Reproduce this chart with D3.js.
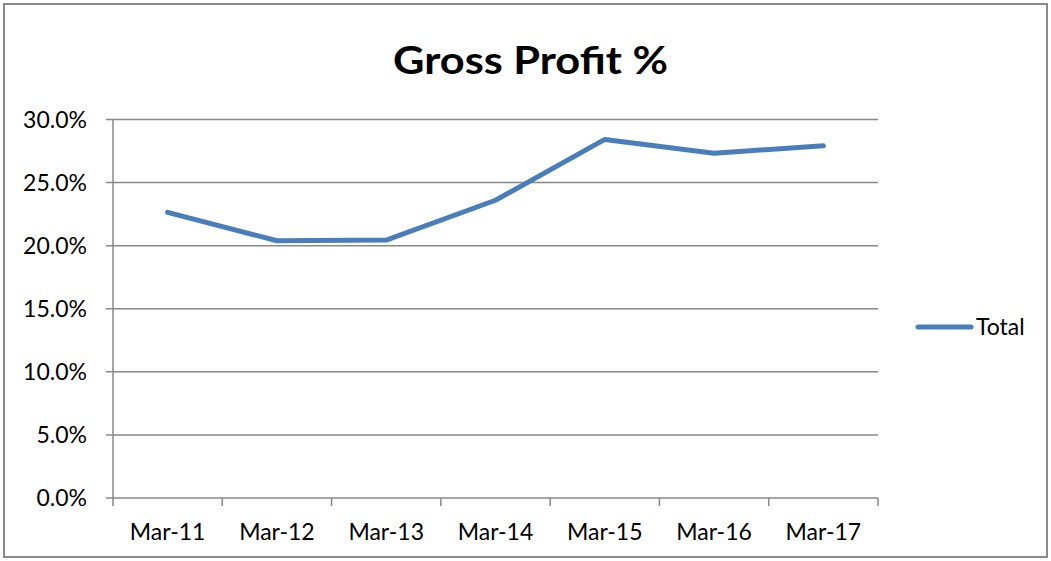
<!DOCTYPE html>
<html>
<head>
<meta charset="utf-8">
<script src="https://cdn.jsdelivr.net/npm/d3@7"></script>
<style>
  body { margin: 0; background: #fff; }
  svg { display: block; font-family: Lato, "Open Sans", sans-serif; }
</style>
</head>
<body>
<svg id="chart"></svg>
<script>
const categories = ["Mar-11", "Mar-12", "Mar-13", "Mar-14", "Mar-15", "Mar-16", "Mar-17"];
const totalValues = [0.2264, 0.2039, 0.2044, 0.2360, 0.2842, 0.2732, 0.2792];
const yTicks = [0, 0.05, 0.10, 0.15, 0.20, 0.25, 0.30];
const seriesName = "Total";
const chartTitle = "Gross Profit %";

const width = 1051;
const height = 561;
const margin = { top: 119.5, right: 173, bottom: 63, left: 113 };
const lineColor = "#4a7ebb";
const gridColor = "#888888";

const svg = d3.select("#chart").attr("width", width).attr("height", height);

// frame
svg.append("rect").attr("x", 4).attr("y", 4).attr("width", width - 8).attr("height", height - 8)
    .attr("fill", "#fff").attr("stroke", "#8a8a8a").attr("stroke-width", 2);

svg.append("text").attr("x", 530.5).attr("y", 74).attr("text-anchor", "middle")
    .attr("font-size", 38).attr("font-weight", "bold").attr("fill", "#000")
    .attr("textLength", 275).attr("lengthAdjust", "spacingAndGlyphs").text(chartTitle);

const x = d3.scaleBand().domain(categories).range([margin.left, width - margin.right]);
const y = d3.scaleLinear().domain([0, 0.30]).range([height - margin.bottom, margin.top]);

// gridlines
svg.append("g").selectAll("line").data(yTicks).enter().append("line")
    .attr("x1", margin.left - 7).attr("x2", width - margin.right)
    .attr("y1", d => y(d)).attr("y2", d => y(d))
    .attr("stroke", gridColor).attr("stroke-width", 1.5);

// y axis
svg.append("line").attr("x1", margin.left).attr("x2", margin.left)
    .attr("y1", y(0.30)).attr("y2", y(0)).attr("stroke", gridColor).attr("stroke-width", 1.5);
svg.append("g").selectAll("text").data(yTicks).enter().append("text")
    .attr("x", margin.left - 26).attr("y", d => y(d)).attr("dy", "0.35em")
    .attr("text-anchor", "end").attr("font-size", 23).attr("fill", "#000")
    .text(d3.format(".1%"));

// x axis ticks at band boundaries
const boundaries = categories.map(c => x(c)).concat([x.range()[1]]);
svg.append("g").selectAll("line").data(boundaries).enter().append("line")
    .attr("x1", d => d).attr("x2", d => d).attr("y1", y(0)).attr("y2", y(0) + 8)
    .attr("stroke", gridColor).attr("stroke-width", 1.5);
svg.append("g").selectAll("text").data(categories).enter().append("text")
    .attr("x", d => x(d) + x.bandwidth() / 2).attr("y", 540)
    .attr("text-anchor", "middle").attr("font-size", 23).attr("fill", "#000").text(d => d);

// series line
const line = d3.line().x((d, i) => x(categories[i]) + x.bandwidth() / 2).y(d => y(d));
svg.append("path").datum(totalValues).attr("fill", "none").attr("stroke", lineColor)
    .attr("stroke-width", 5).attr("stroke-linecap", "round").attr("stroke-linejoin", "round")
    .attr("d", line);

// legend
svg.append("line").attr("x1", 918).attr("x2", 971).attr("y1", 327).attr("y2", 327)
    .attr("stroke", lineColor).attr("stroke-width", 5).attr("stroke-linecap", "round");
svg.append("text").attr("x", 976).attr("y", 327).attr("dy", "0.35em")
    .attr("font-size", 23).attr("fill", "#000").text(seriesName);
</script>
</body>
</html>
